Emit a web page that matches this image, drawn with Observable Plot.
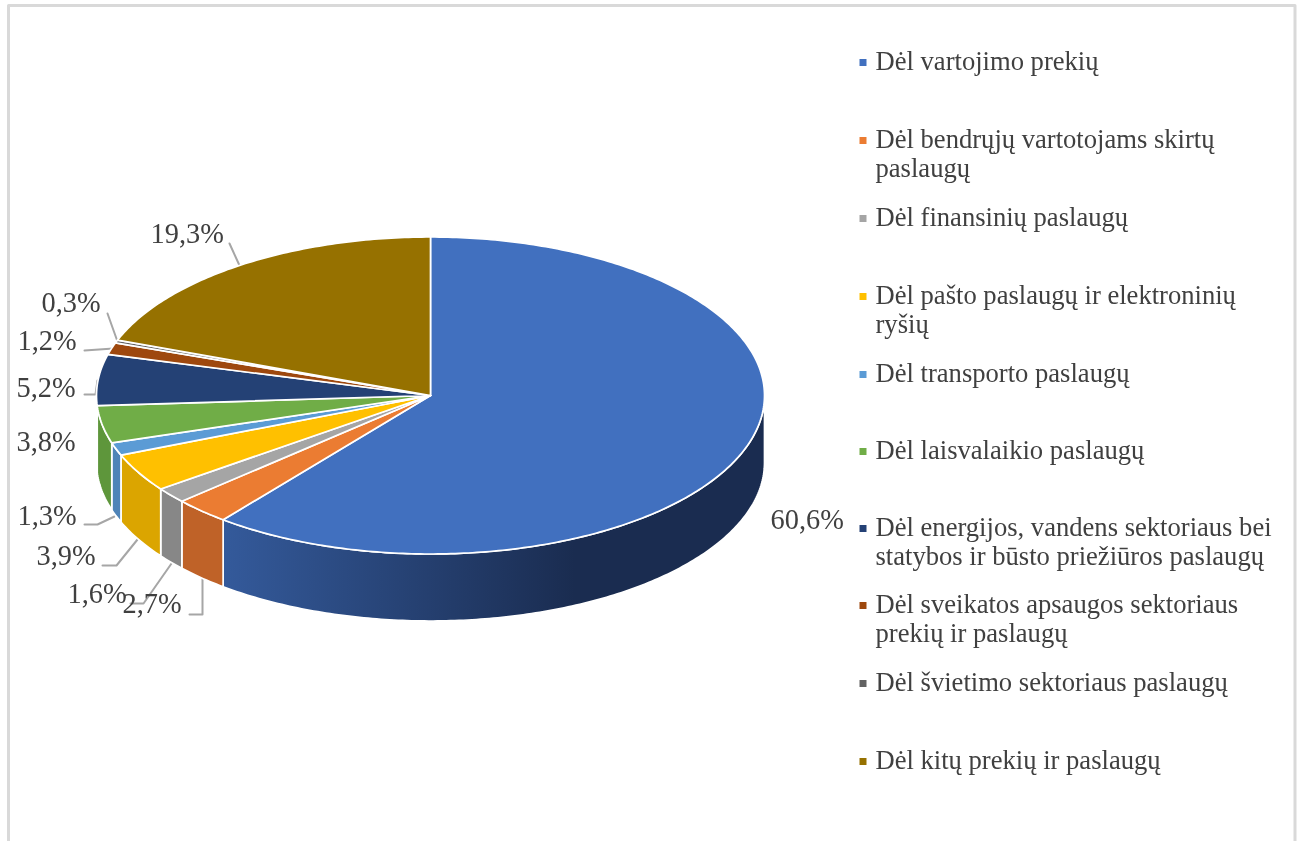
<!DOCTYPE html>
<html lang="lt">
<head>
<meta charset="utf-8">
<style>
  html, body { margin: 0; padding: 0; background: #fff; overflow: hidden; }
  svg { display: block; }
</style>
<script src="https://cdn.jsdelivr.net/npm/d3@7"></script>
<script src="https://cdn.jsdelivr.net/npm/@observablehq/plot@0.6"></script>
</head>
<body>
<div id="chart"></div>
<script>
// ---- chart values ----
const categories = [
  "Dėl vartojimo prekių",
  "Dėl bendrųjų vartotojams skirtų\npaslaugų",
  "Dėl finansinių paslaugų",
  "Dėl pašto paslaugų ir elektroninių\nryšių",
  "Dėl transporto paslaugų",
  "Dėl laisvalaikio paslaugų",
  "Dėl energijos, vandens sektoriaus bei\nstatybos ir būsto priežiūros paslaugų",
  "Dėl sveikatos apsaugos sektoriaus\nprekių ir paslaugų",
  "Dėl švietimo sektoriaus paslaugų",
  "Dėl kitų prekių ir paslaugų"
];
const shares = [60.6, 2.7, 1.6, 3.9, 1.3, 3.8, 5.2, 1.2, 0.3, 19.3];
const shareLabels = ["60,6%", "2,7%", "1,6%", "3,9%", "1,3%", "3,8%", "5,2%", "1,2%", "0,3%", "19,3%"];

// ---- styles ----
const topColors = ["#4170bf", "#eb7c32", "#a5a5a5", "#ffc000", "#5b9bd5", "#70ad47", "#244175", "#9e480e", "#636363", "#967100"];
const wallColors = ["url(#wall-blue)", "#bf6228", "#878787", "#dba500", "#4f84b8", "#5e963b", "#20396a", "#853c0c", "#555555", "#806000"];
const textColor = "#404040";
const leaderColor = "#a6a6a6";
const frameColor = "#d9d9d9";
const labelSize = 28.4;
const legendSize = 26.6;

// ---- layout (page pixels, turned into plot units below) ----
const pieCx = 430, pieCy = 395, pieRx = 334, pieRy = 158.5, pieDepth = 67;
const labelLeft = [770, 122, 67, 36, 17, 16, 16, 17, 41, 150];
const labelMiddle = [519, 603, 593, 555, 515, 441, 387, 340, 302, 233];
const leaders = [
  [],
  [[189, 614], [202, 614], [202, 578]],
  [[130, 603], [143, 603], [171, 563]],
  [[102, 565], [116, 565], [137, 539]],
  [[84, 524], [97, 524], [114, 516]],
  [],
  [[84, 394], [95, 394], [97, 380]],
  [[84, 350], [113, 348]],
  [[107, 313], [117, 341]],
  [[229, 243], [239, 265]]
];
const legendMiddle = [62, 140, 218, 296, 374, 451, 528, 605, 683, 761];
const legendSwatchX = 862.5, legendTextX = 875;
const framePath = [[8, 841], [8, 5], [1294.5, 5], [1294.5, 841]];

const ux = (px) => (px - pieCx) / pieRx;
const uy = (py) => (pieCy - py) / pieRy;
const depthU = pieDepth / pieRy;

// ---- geometry derived from the shares (0 = 12 o'clock, clockwise) ----
const total = d3.sum(shares);
const ends = d3.cumsum(shares).map((v) => (v / total) * 2 * Math.PI);
const starts = ends.map((_, i) => (i ? ends[i - 1] : 0));

function arc(a0, a1) {
  const n = Math.max(2, Math.ceil((a1 - a0) / (Math.PI / 240)));
  return d3.range(n + 1).map((k) => {
    const a = a0 + ((a1 - a0) * k) / n;
    return [Math.sin(a), Math.cos(a)];
  });
}

const topRows = categories.flatMap((category, i) =>
  [[0, 0], ...arc(starts[i], ends[i]), [0, 0]].map(([x, y]) => ({category, x, y}))
);

const wallMarks = categories.flatMap((category, i) => {
  const a0 = Math.max(starts[i], Math.PI / 2);
  const a1 = Math.min(ends[i], 1.5 * Math.PI);
  if (a1 <= a0) return [];
  const upper = arc(a0, a1);
  const ring = [...upper, ...upper.slice().reverse().map(([x, y]) => [x, y - depthU]), upper[0]];
  return [Plot.line(ring, {x: (d) => d[0], y: (d) => d[1], fill: wallColors[i], stroke: "white", strokeWidth: 1.7})];
});

const leaderRows = leaders.flatMap((path, i) => path.map(([px, py]) => ({id: i, x: ux(px), y: uy(py)})));
const labelRows = shareLabels.map((text, i) => ({text, x: ux(labelLeft[i]), y: uy(labelMiddle[i])}));
const legendRows = categories.map((category, i) => ({category, y: uy(legendMiddle[i])}));
const frameRows = framePath.map(([px, py]) => ({x: ux(px), y: uy(py)}));

// Horizontal shading of the big wall
const wallGradient = () => {
  const defs = d3.create("svg:defs");
  const g = defs.append("linearGradient").attr("id", "wall-blue").attr("x1", 0).attr("x2", 1).attr("y1", 0).attr("y2", 0);
  g.append("stop").attr("offset", "0%").attr("stop-color", "#345a9b");
  g.append("stop").attr("offset", "65%").attr("stop-color", "#1a2c50");
  g.append("stop").attr("offset", "100%").attr("stop-color", "#1a2c50");
  return defs.node();
};

const chart = Plot.plot({
  width: 1297,
  height: 841,
  margin: 0,
  style: {background: "white", fontFamily: "'Liberation Serif', serif", filter: "blur(0.45px)"},
  x: {domain: [-1, 1], range: [pieCx - pieRx, pieCx + pieRx], axis: null},
  y: {domain: [1, -1], range: [pieCy - pieRy, pieCy + pieRy], axis: null},
  color: {domain: categories, range: topColors},
  marks: [
    wallGradient,
    Plot.line(frameRows, {x: "x", y: "y", stroke: frameColor, strokeWidth: 3}),
    Plot.line(leaderRows, {x: "x", y: "y", z: "id", stroke: leaderColor, strokeWidth: 2}),
    ...wallMarks,
    Plot.line(topRows, {x: "x", y: "y", z: "category", fill: "category", stroke: "white", strokeWidth: 1.7}),
    Plot.text(labelRows, {x: "x", y: "y", text: "text", textAnchor: "start", lineAnchor: "middle", fontSize: labelSize, fill: textColor}),
    Plot.dot(legendRows, {x: () => ux(legendSwatchX), y: "y", symbol: "square", r: 3.95, fill: "category"}),
    Plot.text(legendRows, {
      x: () => ux(legendTextX), y: "y", text: "category",
      textAnchor: "start", lineAnchor: "top", dy: -13.5, lineHeight: 1.1,
      fontSize: legendSize, fill: textColor
    })
  ]
});
document.getElementById("chart").append(chart);
</script>
</body>
</html>
